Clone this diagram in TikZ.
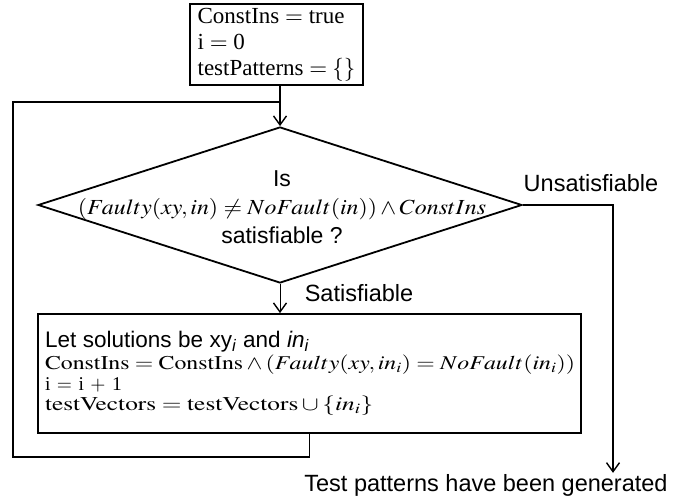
\documentclass[tikz,border=0pt]{standalone}
\usepackage{mathptmx}
\usepackage{fontspec}
\setmainfont{Liberation Serif}
\setsansfont{Liberation Sans}
\usepackage{tikz}
\usetikzlibrary{positioning}
\usetikzlibrary{arrows.meta,shapes.geometric}
\usetikzlibrary{calc}

\newcommand{\wide}[2][1.3]{\scalebox{#1}[1]{#2}}

\tikzset{
  box/.style={draw, line width=1.8pt, rectangle, inner sep=0pt},
  flow/.style={line width=1.8pt},
  thinflow/.style={line width=1pt},
  flowarrow/.style={-{Straight Barb[length=9pt,width=13pt,line width=1.4pt]}},
  sans/.style={font=\fontsize{23.5}{26}\selectfont\sffamily},
  serif/.style={font=\fontsize{23}{26}\selectfont},
}

\begin{document}
\begin{tikzpicture}[x=1pt,y=-1pt]
  \useasboundingbox (0,0) rectangle (690,500);

	%start values
  \node[box, serif, minimum width=173pt, minimum height=81pt, align=left] (init) at (276.5,44.5)
      {ConstIns $=$ true\\ i $=$ 0\\ testPatterns $=\{\}$};

	%decision
  \node[diamond, draw, flow, minimum width=484pt, minimum height=156pt, inner sep=0pt] (test) at (280,205) {};
  \node[align=center, inner sep=0pt, font=\fontsize{21.5}{28.5}\selectfont] (cond) at (282,207)
      {\fontsize{23}{28.5}\selectfont\sffamily Is\\
       \wide[1.11]{$(Faulty(xy,in)\neq NoFault(in))\wedge ConstIns$}\\
       \fontsize{23}{28.5}\selectfont\sffamily satisfiable ?};

	%update step
  \node[box, minimum width=543pt, minimum height=119pt, text width=529pt, align=left,
        font=\fontsize{19.5}{20.5}\selectfont] (update) at (309.5,373.5)
      {{\fontsize{22.5}{20.5}\selectfont\sffamily Let solutions be xy\textsubscript{\textit{i}} and \textit{in}\textsubscript{\textit{i}}}\\[2pt]
       \wide[1.22]{$\mathrm{ConstIns}=\mathrm{ConstIns}\wedge(Faulty(xy,in_i)=NoFault(in_i))$}\\
       \wide[1.0]{i $=$ i $+$ 1}\\
       \wide[1.3]{$\mathrm{testVectors}=\mathrm{testVectors}\cup\{in_i\}$}};

	%labels
  \node[sans, inner sep=0pt] (unsat) at (591,183) {Unsatisfiable};
  \node[sans, inner sep=0pt] (sat) at (359,293) {Satisfiable};
  \node[sans, inner sep=1pt] (result) at (486,485) {Test patterns have been generated};

	%connectors
  \coordinate (merge) at (280,102);
  \coordinate (back) at (13,457);
  \coordinate (turn) at (613,205);

  \draw[flow, flowarrow] (init.south -| test.north) -- (test.north);
  \draw[thinflow, flowarrow] (test.south) -- (test.south |- update.north);
  \draw[flow] (update.south) |- (back) |- (merge);
  \draw[flow, flowarrow] (test.east) -- (turn) -- (turn |- result.north);

\end{tikzpicture}
\end{document}
